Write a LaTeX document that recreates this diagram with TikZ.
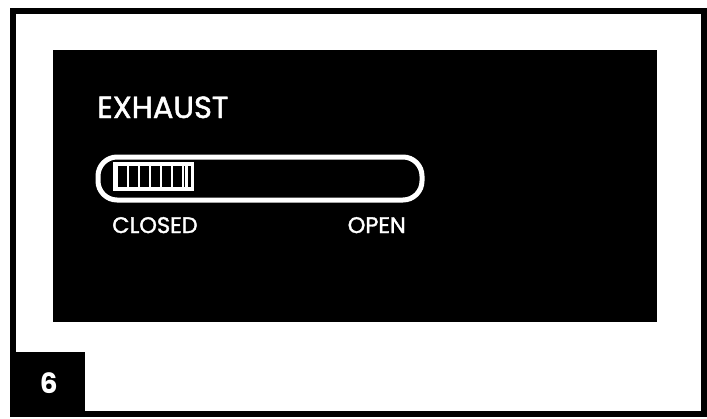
\documentclass[tikz,border=0pt]{standalone}
\usepackage{fontspec}
\setmainfont{Poppins}
\newfontfamily\medfont{Poppins}[FakeBold=1.6]
\begin{document}
\begin{tikzpicture}[x=1pt,y=-1pt,
  lbl/.style={text=white,inner sep=0pt,font=\medfont\fontsize{22.5}{22.5}\selectfont}]
\useasboundingbox (0,0) rectangle (707,418);
\fill[white] (0,0) rectangle (707,418);
% outer frame
\node[draw=black,line width=6pt,minimum width=691pt,minimum height=403pt,inner sep=0pt,anchor=north west] (frame) at (10,7.5) {};
% black panel
\node[fill=black,minimum width=604pt,minimum height=272pt,inner sep=0pt,anchor=north west] (panel) at (53,50) {};
% number box
\node[fill=black,minimum width=73pt,minimum height=62pt,inner sep=0pt,anchor=north west] (numbox) at (12,352) {};
\node[text=white,font=\fontsize{28}{28}\selectfont\bfseries] (num) at (numbox.center) {6};
% title
\node[lbl,anchor=base west,font=\medfont\fontsize{30.5}{30.5}\selectfont] (title) at (97,118) {EXHAUST};
% gauge
\node[draw=white,line width=5pt,rounded corners=19pt,minimum width=324pt,minimum height=43pt,inner sep=0pt,anchor=north west] (gauge) at (95.5,154.5) {};
\node[fill=white,minimum width=81pt,minimum height=29pt,inner sep=0pt,anchor=north west] (block) at (113,162) {};
\foreach \x in {118,129,140,151,162,173}{
  \fill[black] (\x,166) rectangle ++(8.5,21);
}
\fill[black] (183.5,166) rectangle ++(1.6,21);
\fill[black] (187.5,166) rectangle ++(3.5,21);
% labels
\node[lbl,anchor=base west] (closed) at (112,233) {CLOSED};
\node[lbl,anchor=base east] (open) at (406,233) {OPEN};
\end{tikzpicture}
\end{document}
